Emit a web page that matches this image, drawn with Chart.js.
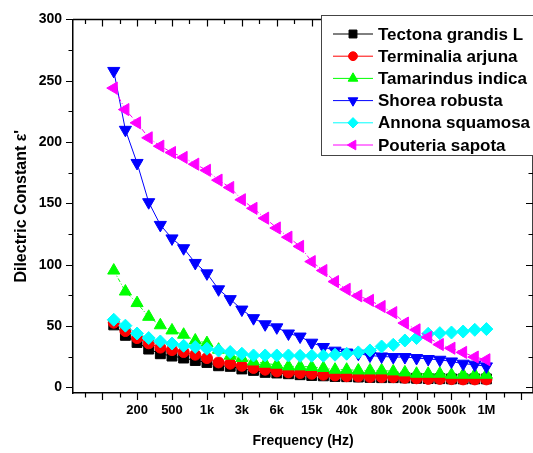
<!DOCTYPE html>
<html>
<head>
<meta charset="utf-8">
<script src="https://cdn.jsdelivr.net/npm/chart.js@4.4.1/dist/chart.umd.min.js"></script>
<style>
  html, body { margin: 0; padding: 0; background: #fff; overflow: hidden; }
  #wrap { width: 533px; height: 453px; }
</style>
</head>
<body>
<div id="wrap"><canvas id="dielChart"></canvas></div>
<script>
// measurement points, evenly spaced along the frequency axis
const pointIndex = [0, 1, 2, 3, 4, 5, 6, 7, 8, 9, 10, 11, 12, 13, 14, 15, 16,
  17, 18, 19, 20, 21, 22, 23, 24, 25, 26, 27, 28, 29, 30, 31, 32];

// labelled frequencies and the point they sit on
const freqTickPos = [2, 5, 8, 11, 14, 17, 20, 23, 26, 29, 32];
const freqTickText = ['200', '500', '1k', '3k', '6k', '15k', '40k', '80k', '200k', '500k', '1M'];

const seriesNames = ['Tectona grandis L', 'Terminalia arjuna', 'Tamarindus indica',
  'Shorea robusta', 'Annona squamosa', 'Pouteria sapota'];

const tectona = [51, 42.5, 36.7, 31.3, 27.5, 25.6, 24, 22, 20.4, 17.7, 17.2, 15.1, 13.9, 12.3, 11.8, 11.2,
  10.4, 9.8, 9.5, 9, 8.8, 8.5, 8.2, 8, 8, 7.8, 7.5, 7.3, 7.2, 7, 7, 7, 7];
const terminalia = [52.8, 46, 40.3, 36, 32.5, 30.5, 28.9, 26.7, 24, 20.4, 19.4, 17.7, 15.9, 14.5, 13.1, 12.3,
  11.8, 11.2, 10.4, 9.8, 9.2, 9, 8.6, 8.5, 8.4, 7.9, 7.5, 7, 7, 6.8, 6.6, 6.6, 6.6];
const tamarindus = [95.3, 78.2, 68.8, 57.6, 50.7, 46.5, 43, 38.3, 36.2, 30.8, 25.9, 24, 21.2, 19.4, 18.6, 17.2,
  17.2, 16.7, 15.9, 14.5, 14.5, 13.9, 13.9, 13.9, 13.1, 12.3, 11.2, 11.2, 11.2, 10.4, 10.4, 10.4, 10.4];
const shorea = [258, 210, 183, 151, 132.5, 121.5, 113.5, 101.5, 93, 80, 72, 63.5, 56.5, 51.5, 49, 44,
  41.5, 36.5, 33, 30, 28.5, 27.5, 26, 25.3, 24.8, 24.8, 24, 23.2, 22.6, 21.2, 19.4, 18.6, 17.2];
const annona = [55.2, 50.4, 44, 40.3, 37.5, 35.8, 34, 33, 31.6, 30.2, 28.9, 27.5, 26.1, 26.1, 26.1, 26.1,
  25.8, 25.9, 25.9, 26.7, 27.5, 28.6, 30.2, 33.4, 34.8, 38.3, 40.3, 43.8, 44.3, 44.8, 45.6, 47, 47.6];
const pouteria = [244, 226.5, 215.7, 203.5, 196.7, 191.5, 187.5, 182, 177, 169, 163, 153, 146, 138, 130, 122.5,
  115, 102.6, 95.3, 86.3, 80, 74.7, 71, 66, 61, 52.5, 47, 41, 35, 32, 28.6, 24.8, 22.6];

const seriesValues = [tectona, terminalia, tamarindus, shorea, annona, pouteria];
const seriesColors = ['#000000', '#ff0000', '#00ff00', '#0000ff', '#00ffff', '#ff00ff'];
const seriesShapes = ['rect', 'circle', 'triangle', 'triangle', 'rectRot', 'triangle'];
const seriesRotation = [0, 0, 0, 180, 0, 270];
const seriesRadius = [7, 5.5, 7, 7, 6.5, 7];
const seriesDash = [[], [], [4, 2, 1, 2], [], [], [5, 2, 1, 2]];

const FONT = "'Liberation Sans', Arial, Helvetica, sans-serif";

const datasets = seriesNames.map((name, i) => ({
  label: name,
  data: pointIndex.map((x, k) => ({ x: x, y: seriesValues[i][k] })),
  borderColor: seriesColors[i],
  backgroundColor: seriesColors[i],
  borderWidth: 1,
  borderDash: seriesDash[i],
  pointStyle: seriesShapes[i],
  pointRotation: seriesRotation[i],
  pointRadius: seriesRadius[i],
  pointBorderWidth: 1,
  pointBorderColor: seriesColors[i],
  pointBackgroundColor: seriesColors[i],
  order: seriesNames.length - i, // later series on top
  tension: 0
}));

const isMajorX = v => Math.abs(((v + 1) % 3 + 3) % 3) < 1e-6;

// top/right frame, inner and outer tick marks
const frame = {
  id: 'frame',
  afterDraw(chart) {
    const { ctx, chartArea: a, scales: { x, y } } = chart;
    ctx.save();
    ctx.strokeStyle = '#000';
    ctx.lineWidth = 1.5;
    ctx.beginPath();
    ctx.moveTo(a.left, a.top);
    ctx.lineTo(a.right, a.top);
    ctx.lineTo(a.right, a.bottom);
    ctx.stroke();

    ctx.lineWidth = 1.2;
    ctx.beginPath();
    x.ticks.forEach(t => {
      const px = Math.round(x.getPixelForValue(t.value)) + 0.5;
      const len = isMajorX(t.value) ? 7 : 4.5;
      ctx.moveTo(px, a.bottom);
      ctx.lineTo(px, a.bottom + len);
      ctx.moveTo(px, a.top);
      ctx.lineTo(px, a.top + len);
    });
    y.ticks.forEach(t => {
      const py = Math.round(y.getPixelForValue(t.value)) + 0.5;
      const len = t.value % 50 === 0 ? 7 : 4.5;
      ctx.moveTo(a.left, py);
      ctx.lineTo(a.left - len, py);
      ctx.moveTo(a.right, py);
      ctx.lineTo(a.right - len, py);
    });
    ctx.stroke();
    ctx.restore();
  }
};

// boxed legend drawn over the top right corner
const boxLegend = {
  id: 'boxLegend',
  afterDraw(chart) {
    const ctx = chart.ctx;
    const bx = 321, by = 15, rowH = 22.2;
    ctx.save();
    ctx.fillStyle = '#fff';
    ctx.fillRect(bx, by, 240, 140);
    ctx.strokeStyle = '#444';
    ctx.lineWidth = 1;
    ctx.strokeRect(bx + 0.5, by + 0.5, 240, 140);

    chart.data.datasets.forEach((ds, i) => {
      const cy = by + 19 + i * rowH;
      ctx.strokeStyle = ds.borderColor;
      ctx.lineWidth = 1;
      ctx.setLineDash([]);
      ctx.beginPath();
      ctx.moveTo(bx + 12, cy);
      ctx.lineTo(bx + 52, cy);
      ctx.stroke();
      ctx.fillStyle = ds.backgroundColor;
      Chart.helpers.drawPoint(ctx, {
        pointStyle: ds.pointStyle,
        rotation: ds.pointRotation,
        radius: ds.pointRadius * 0.8,
        borderWidth: 1
      }, bx + 32, cy);
      ctx.fillStyle = '#000';
      ctx.font = 'bold 17px ' + FONT;
      ctx.textBaseline = 'middle';
      ctx.textAlign = 'left';
      ctx.fillText(ds.label, bx + 57, cy + 1);
    });
    ctx.restore();
  }
};

const chart = new Chart(document.getElementById('dielChart').getContext('2d'), {
  type: 'line',
  data: { datasets: datasets },
  plugins: [frame, boxLegend],
  options: {
    responsive: true,
    maintainAspectRatio: false,
    animation: false,
    layout: { autoPadding: false, padding: { top: 19, right: 0, left: 0, bottom: 0 } },
    plugins: {
      legend: { display: false },
      tooltip: { enabled: false }
    },
    scales: {
      x: {
        type: 'linear',
        min: -3.5,
        max: 36,
        afterBuildTicks: scale => {
          const ticks = [];
          for (let k = 0; k <= 25; k++) ticks.push({ value: -2.5 + 1.5 * k });
          scale.ticks = ticks;
        },
        afterFit: scale => { scale.height = 60; },
        grid: { display: false, drawTicks: false },
        border: { display: true, color: '#000', width: 1.5 },
        ticks: {
          autoSkip: false,
          maxRotation: 0,
          padding: 10,
          color: '#000',
          font: { family: FONT, size: 13, weight: 'bold' },
          callback: v => {
            const k = freqTickPos.indexOf(v);
            return k >= 0 ? freqTickText[k] : '';
          }
        },
        title: {
          display: true,
          text: 'Frequency (Hz)',
          color: '#000',
          font: { family: FONT, size: 14, weight: 'bold' },
          padding: { top: 0, bottom: 3 }
        }
      },
      y: {
        min: -4.5,
        max: 300,
        afterBuildTicks: scale => {
          const ticks = [];
          for (let v = 0; v <= 300; v += 25) ticks.push({ value: v });
          scale.ticks = ticks;
        },
        afterFit: scale => { scale.width = 73; },
        grid: { display: false, drawTicks: false },
        border: { display: true, color: '#000', width: 1.5 },
        ticks: {
          autoSkip: false,
          padding: 11,
          color: '#000',
          font: { family: FONT, size: 14, weight: 'bold' },
          callback: v => (v % 50 === 0 ? v : '')
        },
        title: {
          display: true,
          text: "Dilectric Constant ε'",
          color: '#000',
          font: { family: FONT, size: 16, weight: 'bold' },
          padding: { top: 12, bottom: 0 }
        }
      }
    }
  }
});
</script>
</body>
</html>
